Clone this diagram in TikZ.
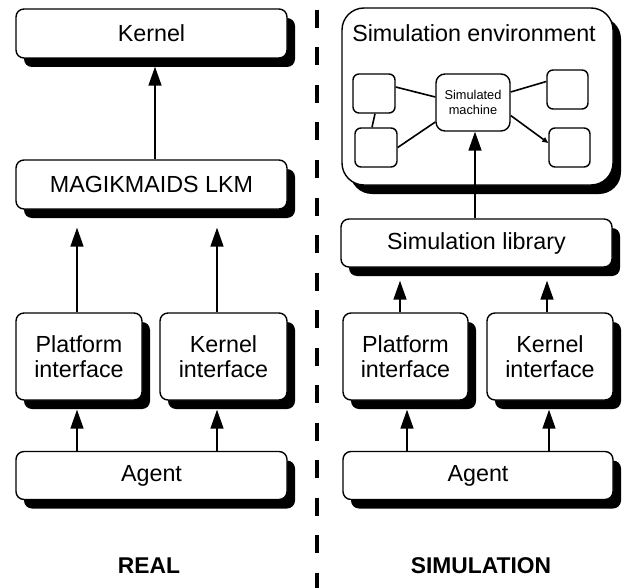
\documentclass[tikz,border=0pt]{standalone}
\usepackage{fontspec}
\setmainfont{Liberation Sans}
\usetikzlibrary{shadows,arrows.meta}
\begin{document}
\begin{tikzpicture}[x=1pt,y=-1pt,
  box/.style={draw, line width=1.4pt, rounded corners=8pt, fill=white, inner sep=0pt, align=center,
    font=\fontsize{23.3}{25.5}\selectfont,
    general shadow={fill=black, shadow xshift=8pt, shadow yshift=-9pt}},
  smallbox/.style={draw, line width=1.4pt, rounded corners=6pt, fill=white, inner sep=0pt, align=center,
    font=\fontsize{12.8}{14.8}\selectfont},
  arr/.style={line width=1.6pt, -{Triangle[length=19pt,width=13pt]}},
  smallarr/.style={line width=1.6pt, -{Triangle[length=6pt,width=5pt]}},
  link/.style={line width=1.6pt},
  lbl/.style={font=\bfseries\fontsize{22.8}{25}\selectfont},
  divider/.style={line width=4.7pt, dash pattern=on 18pt off 19.5pt}]
\useasboundingbox (0,0) rectangle (623,588);

% ---------- REAL ----------
\node[box, minimum width=271pt, minimum height=49pt] (kernel) at (151.5,33.5) {Kernel};
\node[box, minimum width=271pt, minimum height=49pt] (lkm) at (151.5,184.5) {MAGIKMAIDS LKM};
\node[box, minimum width=126pt, minimum height=87pt] (pif) at (79,356.5) {Platform\\interface};
\node[box, minimum width=127pt, minimum height=87pt] (kif) at (223.5,356.5) {Kernel\\interface};
\node[box, minimum width=271pt, minimum height=48pt] (agent) at (151.5,475.5) {Agent};

\draw[arr] ([xshift=3.5pt]lkm.north) -- ([xshift=3.5pt,yshift=-8pt]lkm.north |- kernel.south);
\draw[arr] ([xshift=-2pt]pif.north) -- ([xshift=-2pt,yshift=-18pt]pif.north |- lkm.south);
\draw[arr] ([xshift=-6.5pt]kif.north) -- ([xshift=-6.5pt,yshift=-18pt]kif.north |- lkm.south);
\draw[arr] ([xshift=-2pt]pif.south |- agent.north) -- ([xshift=-2pt,yshift=-9pt]pif.south);
\draw[arr] ([xshift=-6.5pt]kif.south |- agent.north) -- ([xshift=-6.5pt,yshift=-9pt]kif.south);

% ---------- SIMULATION ----------
\node[box, rounded corners=22pt, minimum width=271pt, minimum height=177pt] (simenv) at (477.5,96.5) {};
\node[font=\fontsize{23.3}{25.5}\selectfont, inner sep=0pt] (envtitle) at (474,33) {Simulation environment};
\node[smallbox, minimum width=42pt, minimum height=39pt] (ba) at (374,93.5) {};
\node[smallbox, minimum width=42pt, minimum height=39pt] (bb) at (376,147.5) {};
\node[smallbox, minimum width=41pt, minimum height=39pt] (bc) at (567.5,89.5) {};
\node[smallbox, minimum width=41pt, minimum height=39pt] (bd) at (569.5,147.5) {};
\node[smallbox, rounded corners=9pt, minimum width=74pt, minimum height=57pt] (sm) at (473,102.5) {Simulated\\machine};

\draw[link] ([yshift=6.5pt]ba.east) -- ([yshift=5.5pt]sm.west);
\draw[link] (bb.east) -- ([yshift=-19.5pt]sm.west);
\draw[link] ([xshift=1pt]ba.south) -- ([xshift=-4pt]bb.north);
\draw[link] ([yshift=10.5pt]sm.east) -- ([yshift=8pt]bc.west);
\draw[smallarr] ([yshift=-13pt]sm.east) -- ([yshift=4.5pt]bd.west);

\node[box, minimum width=271pt, minimum height=48pt] (simlib) at (476.5,243) {Simulation library};
\node[box, minimum width=125pt, minimum height=87pt] (pif2) at (405.5,356.5) {Platform\\interface};
\node[box, minimum width=126pt, minimum height=87pt] (kif2) at (550,356.5) {Kernel\\interface};
\node[box, minimum width=270pt, minimum height=48pt] (agent2) at (478,475.5) {Agent};

\draw[arr] ([xshift=-1.5pt]simlib.north) -- ([xshift=-1.5pt]simlib.north |- sm.south);
\draw[arr] ([xshift=-5.5pt]pif2.north) -- ([xshift=-5.5pt,yshift=-13pt]pif2.north |- simlib.south);
\draw[arr] ([xshift=-3pt]kif2.north) -- ([xshift=-3pt,yshift=-13pt]kif2.north |- simlib.south);
\draw[arr] ([xshift=1.5pt]pif2.south |- agent2.north) -- ([xshift=1.5pt,yshift=-9pt]pif2.south);
\draw[arr] ([xshift=-1pt]kif2.south |- agent2.north) -- ([xshift=-1pt,yshift=-9pt]kif2.south);

% ---------- divider and labels ----------
\coordinate (divtop) at (317,10);
\coordinate (divbot) at (317,590);
\draw[divider] (divtop) -- (divbot);
\node[lbl] (real) at (149,566) {REAL};
\node[lbl] (simlbl) at (481,566) {SIMULATION};
\end{tikzpicture}
\end{document}
